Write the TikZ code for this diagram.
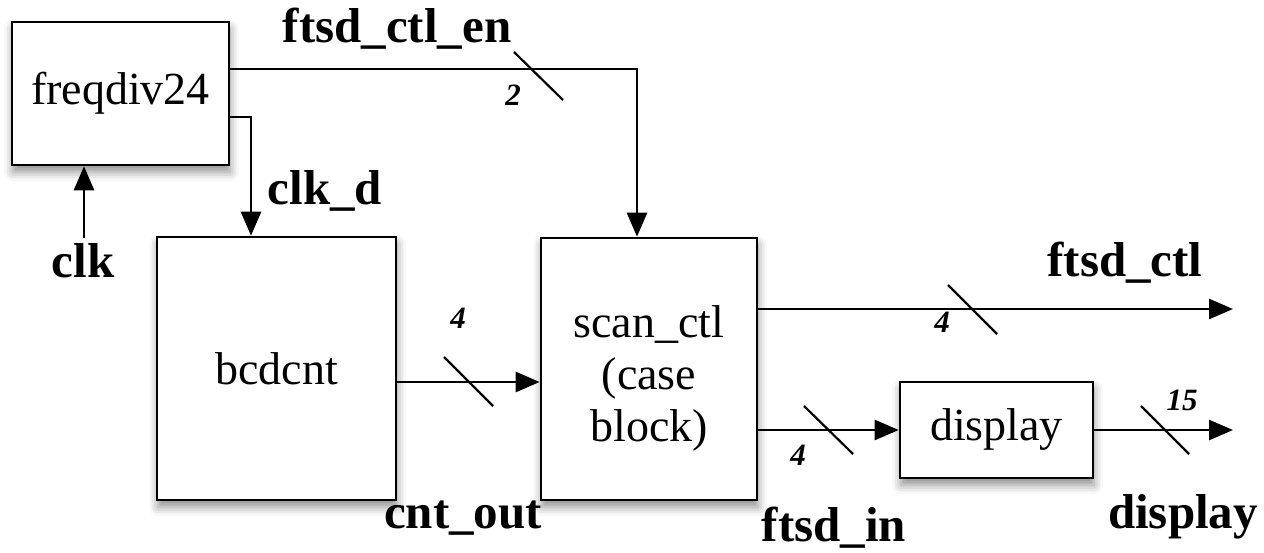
\documentclass[tikz,border=0pt]{standalone}
\usepackage{fontspec}
\setmainfont{Liberation Serif}
\usetikzlibrary{arrows.meta,shadows.blur}
\begin{document}
\begin{tikzpicture}[x=1pt,y=-1pt,
  blk/.style={draw, line width=2.6pt, fill=white, inner sep=0pt,
    font=\fontsize{46}{52}\selectfont, align=center,
    blur shadow={shadow xshift=1pt,shadow yshift=-7pt,shadow blur radius=9pt,shadow opacity=45}},
  wire/.style={line width=2.6pt},
  sig/.style={wire, -{Triangle[length=24pt,width=20pt]}},
  bus/.style={line width=2.2pt},
  lbl/.style={font=\fontsize{49}{52}\selectfont\bfseries, anchor=base, inner sep=0pt},
  num/.style={font=\fontsize{31}{34}\selectfont\bfseries\itshape, anchor=base, inner sep=0pt}]

\useasboundingbox (0,0) rectangle (1264,553);

% blocks
\node[blk, minimum width=217pt, minimum height=143pt] (fd)   at (120.5,93.5) {freqdiv24};
\node[blk, minimum width=239pt, minimum height=263pt] (bcd)  at (276.5,368.5) {bcdcnt};
\node[blk, minimum width=216pt, minimum height=262pt] (scan) at (649,369) {};
\node[font=\fontsize{46}{52}\selectfont, align=center, inner sep=0pt] (scantxt) at (649,378) {scan\_ctl\\(case\\block)};
\node[blk, minimum width=193pt, minimum height=96pt]  (disp) at (996.5,430) {display};

% free ends
\coordinate (clkin)   at (84,238);
\coordinate (ctlout)  at (1233,309);
\coordinate (dispout) at (1233,430);

% connectors
\draw[sig] (fd.east |- 0,69) -| ([xshift=-12pt]scan.north);
\draw[sig] (fd.east |- 0,117) -| (bcd.north -| 251,0);
\draw[sig] (clkin) -- (fd.south -| clkin);
\draw[sig] (bcd.east |- 0,382) -- (scan.west |- 0,382);
\draw[sig] (scan.east |- ctlout) -- (ctlout);
\draw[sig] (scan.east |- disp.west) -- (disp.west);
\draw[sig] (disp.east) -- (dispout);

% bus width marks
\draw[bus] (514,52) -- (563,100);
\draw[bus] (444,357) -- (493,406);
\draw[bus] (948,285) -- (997,334);
\draw[bus] (804,406) -- (853,454);
\draw[bus] (1141,406) -- (1189,454);

% signal names
\node[lbl] (lEn)   at (397,43)  {ftsd\_ctl\_en};
\node[lbl] (lClkd) at (325,205) {clk\_d};
\node[lbl] (lClk)  at (83,278)  {clk};
\node[lbl] (lCnt)  at (463,528) {cnt\_out};
\node[lbl] (lIn)   at (834,541) {ftsd\_in};
\node[lbl] (lCtl)  at (1125,277) {ftsd\_ctl};
\node[lbl] (lDisp) at (1183,528) {display};

% bus widths
\node[num] (n2)  at (513,106) {2};
\node[num] (n4a) at (458,329) {4};
\node[num] (n4b) at (942,333) {4};
\node[num] (n4c) at (798,465) {4};
\node[num] (n15) at (1182,410) {15};
\end{tikzpicture}
\end{document}
